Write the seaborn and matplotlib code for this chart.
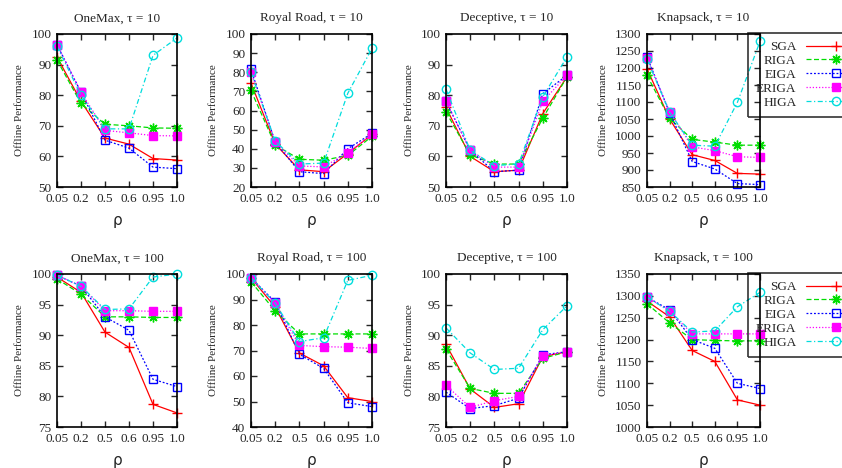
import numpy as np
import matplotlib
matplotlib.use('Agg')
import matplotlib.pyplot as plt
import seaborn as sns

# -- Data (rows follow ALGOS order) --
RHO   = ['0.05', '0.2', '0.5', '0.6', '0.95', '1.0']
ALGOS = ['SGA', 'RIGA', 'EIGA', 'ERIGA', 'HIGA']

onemax_t10 = [
    [92.5, 78.0, 66.0, 64.0, 59.3, 58.8],
    [91.5, 77.3, 70.5, 70.0, 69.3, 69.2],
    [96.5, 81.0, 65.3, 62.7, 56.5, 56.0],
    [96.5, 81.0, 68.5, 67.7, 66.8, 66.7],
    [96.0, 80.0, 69.0, 69.0, 93.0, 98.7],
]
royal_t10 = [
    [74.3, 42.5, 29.0, 28.0, 37.5, 47.5],
    [70.5, 42.0, 34.5, 34.0, 36.5, 46.5],
    [81.5, 43.5, 28.0, 27.0, 40.0, 48.0],
    [80.0, 43.5, 31.0, 30.5, 38.0, 47.5],
    [80.0, 44.0, 32.0, 32.5, 69.0, 92.5],
]
deceptive_t10 = [
    [76.0, 60.0, 55.0, 55.5, 74.0, 86.0],
    [74.5, 60.5, 57.5, 57.5, 72.5, 86.0],
    [78.0, 62.0, 55.0, 55.5, 80.5, 86.5],
    [78.0, 62.0, 56.5, 56.5, 78.0, 86.5],
    [82.0, 62.0, 57.0, 57.5, 79.5, 92.5],
]
knapsack_t10 = [
    [1198, 1050, 945, 928, 890, 888],
    [1178, 1052, 990, 982, 973, 973],
    [1233, 1068, 925, 903, 860, 857],
    [1230, 1072, 968, 957, 939, 937],
    [1225, 1070, 973, 970, 1099, 1278],
]
onemax_t100 = [
    [99.5, 97.0, 90.5, 88.0, 78.7, 77.3],
    [99.2, 96.7, 93.0, 93.0, 92.9, 92.9],
    [99.8, 98.0, 93.0, 90.8, 82.8, 81.6],
    [99.8, 98.0, 94.0, 94.0, 93.9, 93.9],
    [99.8, 98.0, 94.2, 94.3, 99.5, 100.0],
]
royal_t100 = [
    [98.5, 87.0, 69.0, 64.0, 51.5, 50.0],
    [97.0, 85.5, 76.5, 76.5, 76.5, 76.5],
    [98.5, 89.0, 68.5, 63.0, 49.5, 48.0],
    [98.5, 88.5, 72.0, 71.5, 71.3, 70.8],
    [98.5, 88.5, 73.5, 75.0, 97.5, 99.5],
]
deceptive_t100 = [
    [88.5, 81.2, 78.2, 78.8, 86.5, 87.3],
    [87.7, 81.3, 80.5, 80.5, 86.2, 87.3],
    [80.7, 78.0, 78.5, 79.7, 86.8, 87.3],
    [81.8, 78.2, 79.3, 80.0, 86.6, 87.3],
    [91.2, 87.1, 84.4, 84.6, 90.9, 94.8],
]
knapsack_t100 = [
    [1288, 1252, 1175, 1150, 1062, 1050],
    [1282, 1238, 1200, 1198, 1197, 1197],
    [1297, 1268, 1200, 1180, 1100, 1088],
    [1297, 1265, 1213, 1213, 1213, 1213],
    [1297, 1265, 1217, 1220, 1275, 1308],
]

PANELS = [
    ('OneMax, \u03c4 = 10',      onemax_t10,     (50, 100, 10)),
    ('Royal Road, \u03c4 = 10',  royal_t10,      (20, 100, 10)),
    ('Deceptive, \u03c4 = 10',   deceptive_t10,  (50, 100, 10)),
    ('Knapsack, \u03c4 = 10',    knapsack_t10,   (850, 1300, 50)),
    ('OneMax, \u03c4 = 100',     onemax_t100,    (75, 100, 5)),
    ('Royal Road, \u03c4 = 100', royal_t100,     (40, 100, 10)),
    ('Deceptive, \u03c4 = 100',  deceptive_t100, (75, 100, 5)),
    ('Knapsack, \u03c4 = 100',   knapsack_t100,  (1000, 1350, 50)),
]

# gnuplot-like styles
STYLES = {
    'SGA'  : dict(color='#ff0000', linestyle='-', marker='+', ms=7, mfc='#ff0000'),
    'RIGA' : dict(color='#00dd00', linestyle=(0, (4, 2)), marker=(8, 2, 0), ms=7, mfc='#00dd00'),
    'EIGA' : dict(color='#0000ff', linestyle=(0, (1.5, 1.5)), marker='s', ms=6, mfc='none'),
    'ERIGA': dict(color='#ff00ff', linestyle=(0, (1, 1.5)), marker='s', ms=6, mfc='#ff00ff'),
    'HIGA' : dict(color='#00dddd', linestyle=(0, (4, 2, 1, 2)), marker='o', ms=6, mfc='none'),
}

sns.set_style('ticks')
plt.rcParams['font.family'] = ['Liberation Serif', 'DejaVu Serif']

fig = plt.figure(figsize=(8.42, 4.68), dpi=100)
W, H = 842.0, 468.0
col_left  = [57, 251, 446, 647]
col_width = [120, 121, 121, 113]
row_top   = [34, 274]
ax_h      = 153

x = np.arange(len(RHO))

for k, (title, rows, (lo, hi, step)) in enumerate(PANELS):
    r, c = divmod(k, 4)
    rect = [col_left[c] / W, 1 - (row_top[r] + ax_h) / H, col_width[c] / W, ax_h / H]
    ax = fig.add_axes(rect)

    for name, vals in zip(ALGOS, rows):
        st = STYLES[name]
        sns.lineplot(x=x, y=vals, ax=ax, legend=False, label=name,
                     color=st['color'], linestyle=st['linestyle'],
                     marker=st['marker'], markersize=st['ms'],
                     markerfacecolor=st['mfc'], markeredgecolor=st['color'],
                     markeredgewidth=1.0, linewidth=0.9, clip_on=False)

    ax.set_xlim(0, len(RHO) - 1)
    ax.set_ylim(lo, hi)
    ax.set_xticks(x)
    ax.set_xticklabels(RHO)
    ax.set_yticks(np.arange(lo, hi + step / 2, step))
    ax.tick_params(direction='in', top=True, right=True, length=4, width=1,
                   labelsize=9.5, pad=4)
    for sp in ax.spines.values():
        sp.set_linewidth(1.2)
        sp.set_color('black')
        sp.set_visible(True)
    ax.set_title(title, fontsize=9.5, pad=9)
    ax.set_xlabel('\u03c1', family=['DejaVu Sans'], fontsize=11, labelpad=6)
    ax.set_ylabel('Offline Performance', fontsize=8, labelpad=5)

    if ax.get_legend() is not None:
        ax.get_legend().remove()

    if c == 3:
        top = row_top[r] - 1
        leg = ax.legend(handles=ax.lines[:len(ALGOS)], labels=ALGOS,
                        loc='upper left', bbox_to_anchor=(748 / W, 1 - top / H),
                        bbox_transform=fig.transFigure, borderaxespad=0,
                        markerfirst=False, fancybox=False, frameon=True,
                        fontsize=9.5, labelspacing=0.13, handlelength=4.6,
                        handletextpad=0.7, borderpad=0.6)
        leg.get_frame().set_facecolor('none')
        leg.get_frame().set_edgecolor('black')
        leg.get_frame().set_linewidth(1.2)

fig.savefig('out.png', dpi=100)
